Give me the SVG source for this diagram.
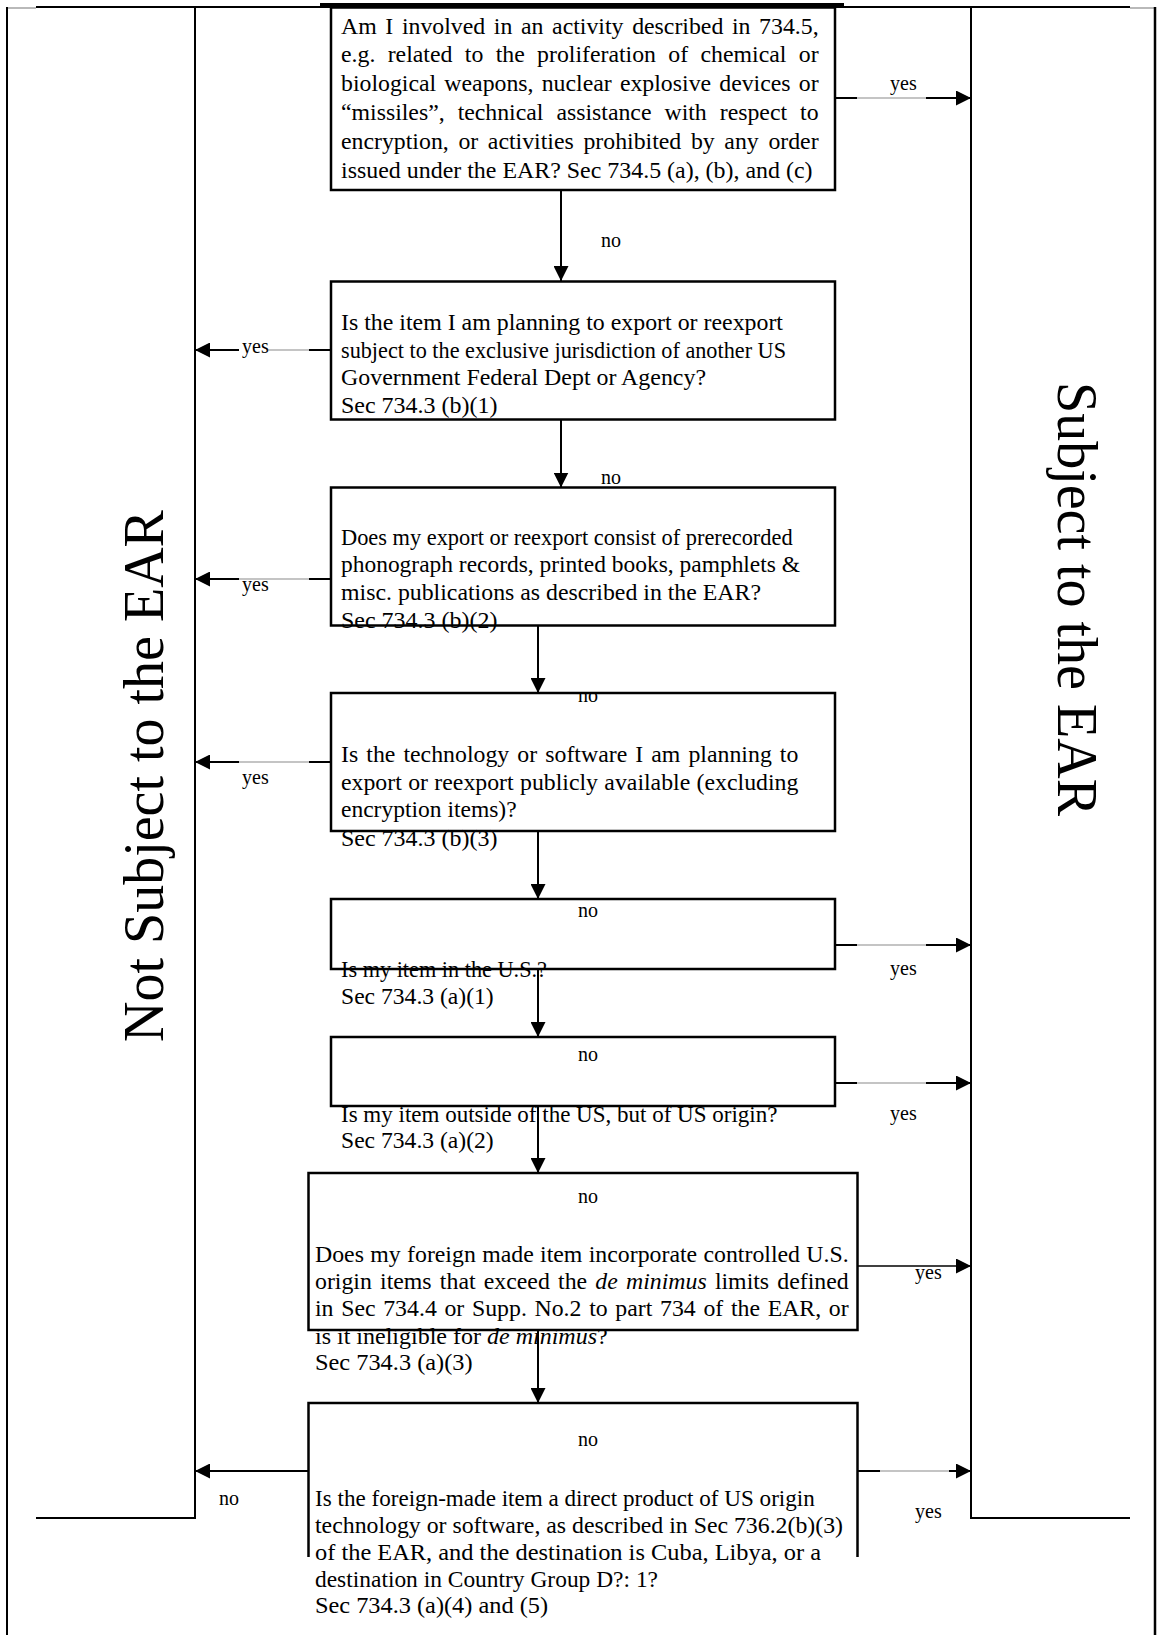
<svg xmlns="http://www.w3.org/2000/svg" width="1158" height="1635" viewBox="0 0 1158 1635">
<style>
.t{font-family:"Liberation Serif","Times New Roman",serif;font-size:23.8px;fill:#000}
.lbl{font-family:"Liberation Serif","Times New Roman",serif;font-size:20px;fill:#000}
.big{font-family:"Liberation Serif","Times New Roman",serif;font-size:56px;fill:#000}
.box{fill:none;stroke:#000;stroke-width:2.5}
.ln{fill:none;stroke:#000;stroke-width:2}
.gr{fill:none;stroke:#8a8a8a;stroke-width:1.2}
.fr{fill:none;stroke:#000;stroke-width:2}
</style>
<defs>
<marker id="ah" viewBox="0 0 15 15" refX="15" refY="7.5" markerWidth="15" markerHeight="15" markerUnits="userSpaceOnUse" orient="auto">
<path d="M0,0 L15,7.5 L0,15 z" fill="#000"/>
</marker>
</defs>
<rect width="1158" height="1635" fill="#fff"/>

<g id="frame">
<line class="gr" x1="7" y1="8" x2="36" y2="8"/>
<line class="fr" x1="36" y1="7" x2="1130" y2="7"/>
<line class="gr" x1="1130" y1="8" x2="1155" y2="8"/>
<line class="fr" x1="7" y1="7" x2="7" y2="1635"/>
<line class="fr" x1="1155" y1="7" x2="1155" y2="1635" style="stroke-width:2.5"/>
<line x1="320" y1="4.5" x2="844" y2="4.5" stroke="#000" stroke-width="3"/>
</g>

<g id="not-subject">
<path class="fr" d="M195,7 V1518 H36"/>
<text class="big" transform="translate(163,776) rotate(-90)" text-anchor="middle">Not Subject to the EAR</text>
</g>

<g id="subject">
<path class="fr" d="M971,7 V1518 H1130"/>
<text class="big" transform="translate(1058,599) rotate(90)" text-anchor="middle">Subject to the EAR</text>
</g>

<g id="q1">
<text class="t" x="341" y="33.5" style="word-spacing:2.7px" textLength="477.6">Am I involved in an activity described in 734.5,</text>
<text class="t" x="341" y="62.3" style="word-spacing:6.4px" textLength="477.6">e.g. related to the proliferation of chemical or</text>
<text class="t" x="341" y="91.1" style="word-spacing:2.2px" textLength="477.6">biological weapons, nuclear explosive devices or</text>
<text class="t" x="341" y="119.9" style="word-spacing:7.1px" textLength="477.6">“missiles”, technical assistance with respect to</text>
<text class="t" x="341" y="148.7" style="word-spacing:3.7px" textLength="477.6">encryption, or activities prohibited by any order</text>
<text class="t" x="341" y="177.5" textLength="471.5" lengthAdjust="spacingAndGlyphs">issued under the EAR? Sec 734.5 (a), (b), and (c)</text>
<rect class="box" x="331" y="7.5" width="504" height="182.5"/>
</g>

<g id="q2">
<text class="t" x="341" y="330" textLength="442" lengthAdjust="spacingAndGlyphs">Is the item I am planning to export or reexport</text>
<text class="t" x="341" y="357.5" textLength="445" lengthAdjust="spacingAndGlyphs">subject to the exclusive jurisdiction of another US</text>
<text class="t" x="341" y="385" textLength="365" lengthAdjust="spacingAndGlyphs">Government Federal Dept or Agency?</text>
<text class="t" x="341" y="412.5" textLength="156.5" lengthAdjust="spacingAndGlyphs">Sec 734.3 (b)(1)</text>
<rect class="box" x="331" y="281.5" width="504" height="138"/>
</g>

<g id="q3">
<text class="t" x="341" y="545" textLength="451.6" lengthAdjust="spacingAndGlyphs">Does my export or reexport consist of prerecorded</text>
<text class="t" x="341" y="572" textLength="459" lengthAdjust="spacingAndGlyphs">phonograph records, printed books, pamphlets &amp;</text>
<text class="t" x="341" y="600" textLength="420" lengthAdjust="spacingAndGlyphs">misc. publications as described in the EAR?</text>
<text class="t" x="341" y="628" textLength="156.5" lengthAdjust="spacingAndGlyphs">Sec 734.3 (b)(2)</text>
<rect class="box" x="331" y="487.5" width="504" height="138"/>
</g>

<g id="q4">
<text class="t" x="341" y="762" style="word-spacing:2.1px" textLength="457.4">Is the technology or software I am planning to</text>
<text class="t" x="341" y="790" style="word-spacing:0.4px" textLength="457.4">export or reexport publicly available (excluding</text>
<text class="t" x="341" y="817" textLength="175.6" lengthAdjust="spacingAndGlyphs">encryption items)?</text>
<text class="t" x="341" y="846" textLength="156.5" lengthAdjust="spacingAndGlyphs">Sec 734.3 (b)(3)</text>
<rect class="box" x="331" y="693" width="504" height="138"/>
</g>

<g id="q5">
<text class="t" x="341" y="977" textLength="206" lengthAdjust="spacingAndGlyphs">Is my item in the U.S.?</text>
<text class="t" x="341" y="1003.5" textLength="152.7" lengthAdjust="spacingAndGlyphs">Sec 734.3 (a)(1)</text>
<rect class="box" x="331" y="899" width="504" height="70"/>
</g>

<g id="q6">
<text class="t" x="341" y="1122" textLength="436.4" lengthAdjust="spacingAndGlyphs">Is my item outside of the US, but of US origin?</text>
<text class="t" x="341" y="1148" textLength="152.7" lengthAdjust="spacingAndGlyphs">Sec 734.3 (a)(2)</text>
<rect class="box" x="331" y="1037" width="504" height="69"/>
</g>

<g id="q7">
<text class="t" x="315" y="1262" style="word-spacing:0.4px" textLength="533.7">Does my foreign made item incorporate controlled U.S.</text>
<text class="t" x="315" y="1289" style="word-spacing:2.3px" textLength="533.7">origin items that exceed the <tspan font-style="italic">de minimus</tspan> limits defined</text>
<text class="t" x="315" y="1315.5" style="word-spacing:1.7px" textLength="533.7">in Sec 734.4 or Supp. No.2 to part 734 of the EAR, or</text>
<text class="t" x="315" y="1343.5" textLength="292.7" lengthAdjust="spacingAndGlyphs">is it ineligible for <tspan font-style="italic">de minimus</tspan>?</text>
<text class="t" x="315" y="1370" textLength="157.6" lengthAdjust="spacingAndGlyphs">Sec 734.3 (a)(3)</text>
<rect class="box" x="308.5" y="1173" width="549" height="157"/>
</g>

<g id="q8">
<text class="t" x="315" y="1506" textLength="499.8" lengthAdjust="spacingAndGlyphs">Is the foreign-made item a direct product of US origin</text>
<text class="t" x="315" y="1533" textLength="528" lengthAdjust="spacingAndGlyphs">technology or software, as described in Sec 736.2(b)(3)</text>
<text class="t" x="315" y="1560" textLength="506" lengthAdjust="spacingAndGlyphs">of the EAR, and the destination is Cuba, Libya, or a</text>
<text class="t" x="315" y="1587" textLength="343" lengthAdjust="spacingAndGlyphs">destination in Country Group D?: 1?</text>
<text class="t" x="315" y="1613" textLength="233" lengthAdjust="spacingAndGlyphs">Sec 734.3 (a)(4) and (5)</text>
<path class="box" d="M308.5,1557 V1403 H857.5 V1557"/>
</g>

<g id="connectors">
<line class="ln" x1="561" y1="190" x2="561" y2="281" marker-end="url(#ah)"/>
<line class="ln" x1="561" y1="419.5" x2="561" y2="487.5" marker-end="url(#ah)"/>
<line class="ln" x1="538" y1="625.5" x2="538" y2="693" marker-end="url(#ah)"/>
<line class="ln" x1="538" y1="831" x2="538" y2="899" marker-end="url(#ah)"/>
<line class="ln" x1="538" y1="969" x2="538" y2="1037" marker-end="url(#ah)"/>
<line class="ln" x1="538" y1="1106" x2="538" y2="1173" marker-end="url(#ah)"/>
<line class="ln" x1="538" y1="1330" x2="538" y2="1403" marker-end="url(#ah)"/>

<line class="ln" x1="835" y1="98" x2="857" y2="98"/>
<line class="gr" x1="857" y1="98" x2="926" y2="98"/>
<line class="ln" x1="926" y1="98" x2="971" y2="98" marker-end="url(#ah)"/>

<line class="ln" x1="331" y1="350" x2="309" y2="350"/>
<line class="gr" x1="309" y1="350" x2="268" y2="350"/>
<line class="ln" x1="239" y1="350" x2="195" y2="350" marker-end="url(#ah)"/>

<line class="ln" x1="331" y1="579" x2="309" y2="579"/>
<line class="gr" x1="309" y1="579" x2="239" y2="579"/>
<line class="ln" x1="239" y1="579" x2="195" y2="579" marker-end="url(#ah)"/>

<line class="ln" x1="331" y1="762" x2="309" y2="762"/>
<line class="gr" x1="309" y1="762" x2="239" y2="762"/>
<line class="ln" x1="239" y1="762" x2="195" y2="762" marker-end="url(#ah)"/>

<line class="ln" x1="835" y1="945" x2="857" y2="945"/>
<line class="gr" x1="857" y1="945" x2="926" y2="945"/>
<line class="ln" x1="926" y1="945" x2="971" y2="945" marker-end="url(#ah)"/>

<line class="ln" x1="835" y1="1083" x2="857" y2="1083"/>
<line class="gr" x1="857" y1="1083" x2="926" y2="1083"/>
<line class="ln" x1="926" y1="1083" x2="971" y2="1083" marker-end="url(#ah)"/>

<line class="ln" x1="857.5" y1="1266" x2="971" y2="1266" style="stroke-width:1.5" marker-end="url(#ah)"/>

<line class="ln" x1="857.5" y1="1471" x2="880" y2="1471"/>
<line class="gr" x1="880" y1="1471" x2="949" y2="1471"/>
<line class="ln" x1="949" y1="1471" x2="971" y2="1471" marker-end="url(#ah)"/>

<line class="ln" x1="308.5" y1="1471" x2="195" y2="1471" marker-end="url(#ah)"/>

<text class="lbl" x="890" y="90">yes</text>
<text class="lbl" x="601" y="247">no</text>
<text class="lbl" x="242" y="353">yes</text>
<text class="lbl" x="601" y="484">no</text>
<text class="lbl" x="242" y="591">yes</text>
<text class="lbl" x="578" y="702">no</text>
<text class="lbl" x="242" y="784">yes</text>
<text class="lbl" x="578" y="917">no</text>
<text class="lbl" x="890" y="975">yes</text>
<text class="lbl" x="578" y="1061">no</text>
<text class="lbl" x="890" y="1120">yes</text>
<text class="lbl" x="578" y="1203">no</text>
<text class="lbl" x="915" y="1279">yes</text>
<text class="lbl" x="578" y="1446">no</text>
<text class="lbl" x="219" y="1505">no</text>
<text class="lbl" x="915" y="1518">yes</text>
</g>
</svg>
